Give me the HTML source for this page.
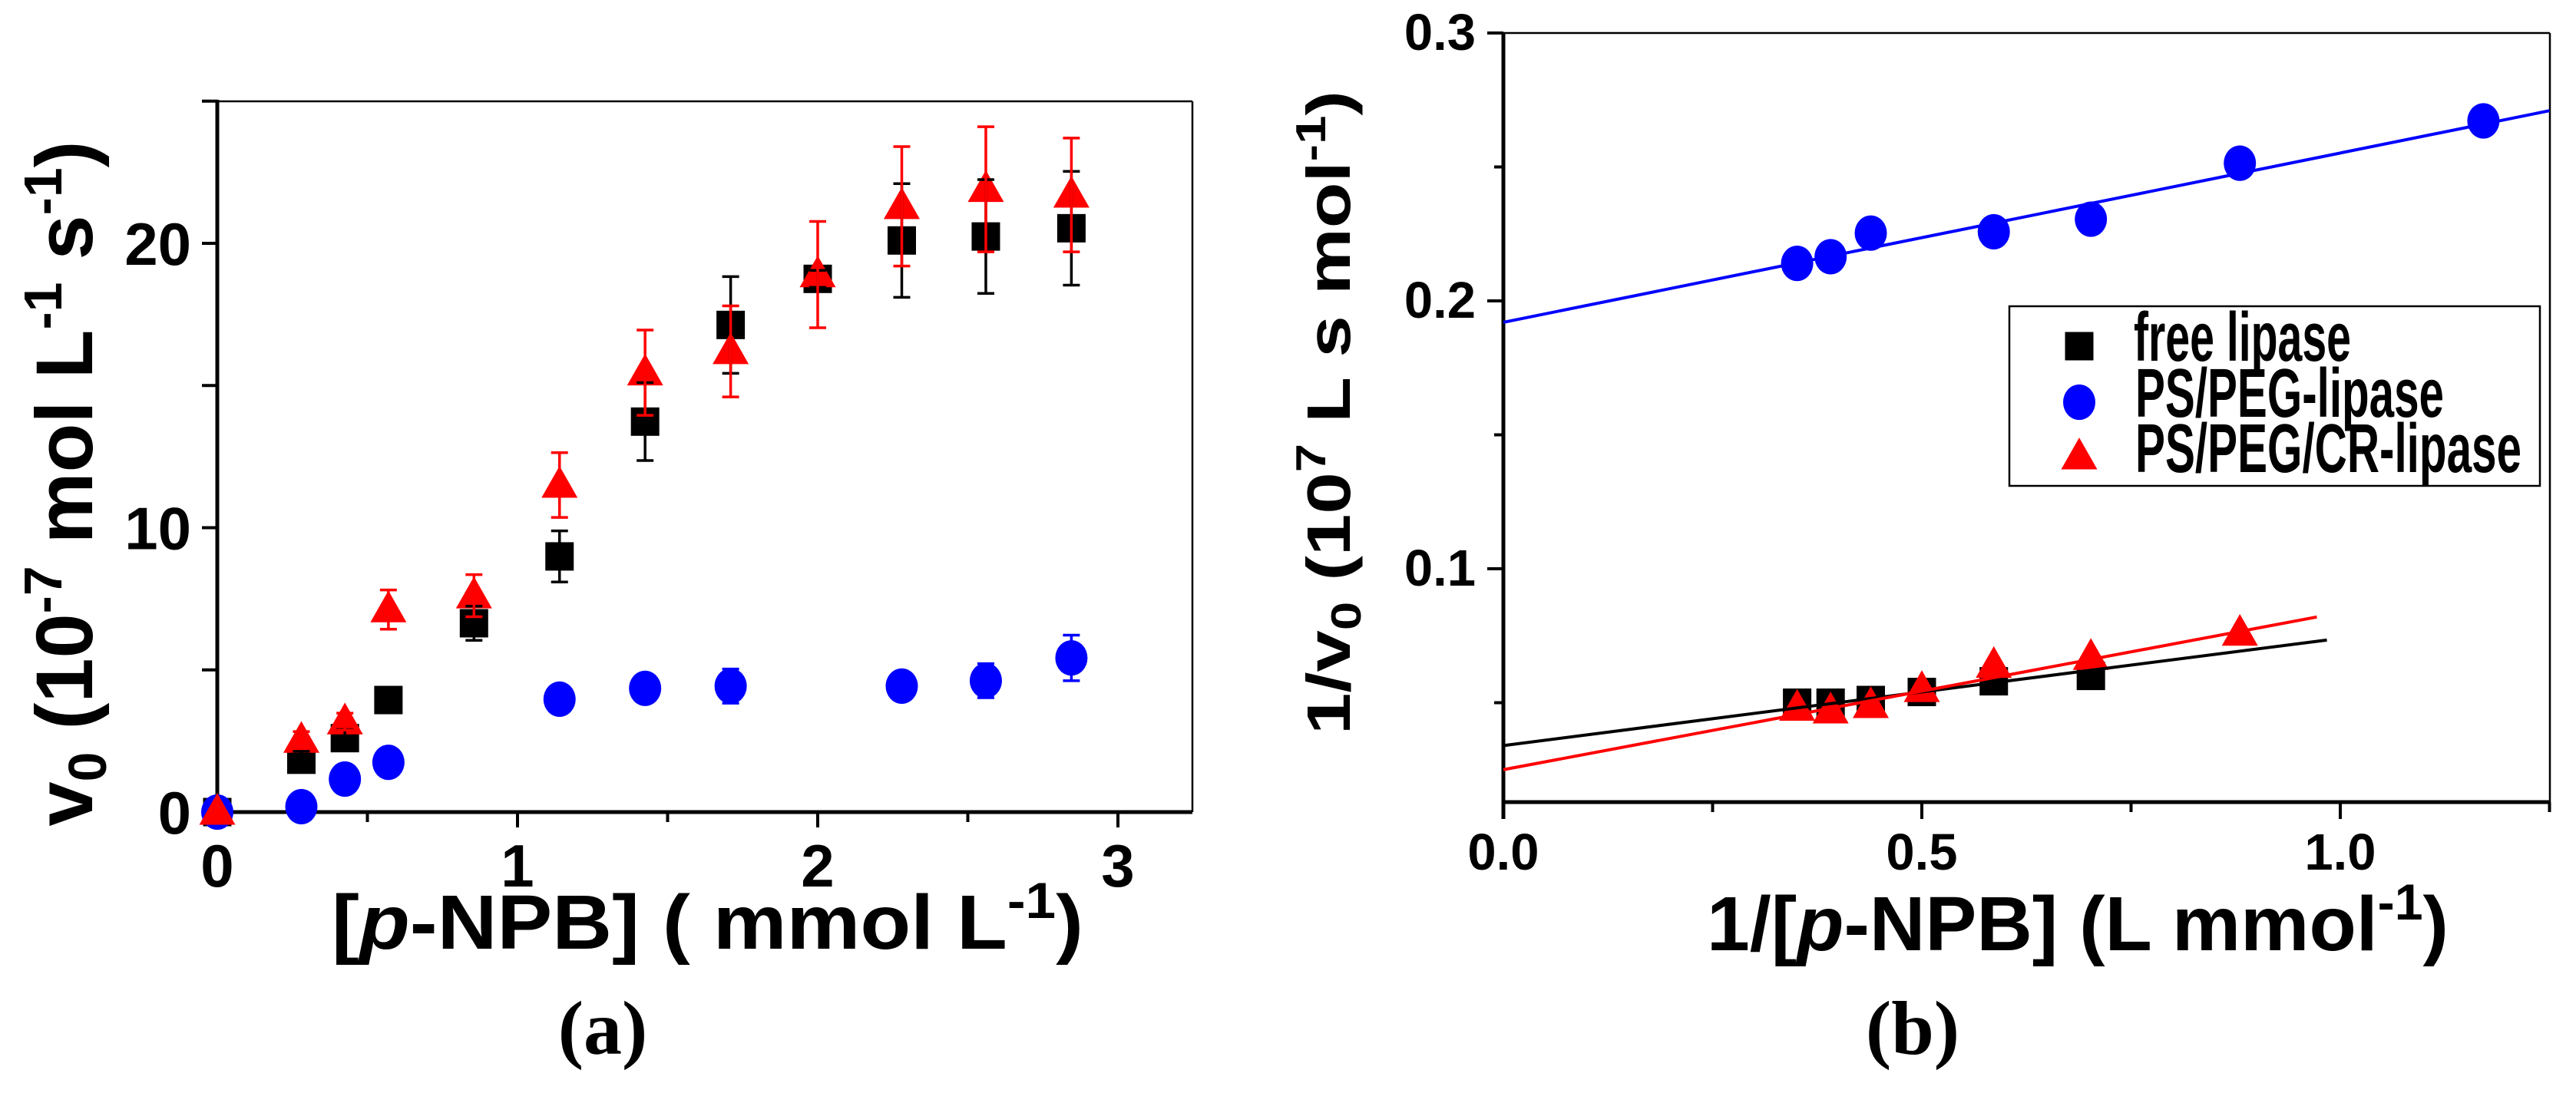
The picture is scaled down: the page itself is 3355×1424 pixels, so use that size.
<!DOCTYPE html>
<html><head><meta charset="utf-8">
<style>
html,body{margin:0;padding:0;background:#fff;}
svg{display:block;font-family:"Liberation Sans",Arial,sans-serif;}
</style></head>
<body>
<svg id="fig" width="3355" height="1424" viewBox="0 0 3355 1424" xmlns="http://www.w3.org/2000/svg">
<rect x="0" y="0" width="3355" height="1424" fill="#fff"/>
<g id="chartA"></g>
<g id="chartB"></g>
</svg>
<script>
// ---- Chart (a) data ----
const aX = [0, 0.28, 0.425, 0.57, 0.855, 1.14, 1.425, 1.71, 2.0, 2.28, 2.56, 2.845];
const aFree = [0, 1.84, 2.6, 3.94, 6.64, 8.99, 13.73, 17.13, 18.75, 20.1, 20.24, 20.53];
const aFreeErr = [0, 0.3, 0.3, 0, 0.6, 0.9, 1.37, 1.7, 0.3, 2.0, 2.0, 2.0];
const aRed = [0, 2.53, 3.18, 7.12, 7.61, 11.5, 15.45, 16.2, 18.9, 21.3, 21.9, 21.7];
const aRedErr = [0, 0.3, 0.3, 0.69, 0.74, 1.14, 1.5, 1.6, 1.87, 2.1, 2.2, 2.0];
const aBlueX = [0, 0.28, 0.425, 0.57, 1.14, 1.425, 1.71, 2.28, 2.56, 2.845];
const aBlue = [0, 0.19, 1.16, 1.75, 3.97, 4.35, 4.43, 4.43, 4.62, 5.42];
const aBlueErr = [0, 0, 0, 0, 0.2, 0.2, 0.6, 0.4, 0.6, 0.8];
const aXTicks = [0, 1, 2, 3];
const aYTicks = [0, 10, 20];
// ---- Chart (b) data ----
const bBlueX = [0.351, 0.391, 0.439, 0.586, 0.702, 0.880, 1.171];
const bBlue = [0.214, 0.2165, 0.2253, 0.2258, 0.2305, 0.2514, 0.2672];
const bFreeX = [0.351, 0.391, 0.439, 0.50, 0.586, 0.702];
const bFree = [0.050, 0.050, 0.051, 0.054, 0.058, 0.060];
const bRedX = [0.351, 0.391, 0.439, 0.50, 0.586, 0.702, 0.880];
const bRed = [0.048, 0.047, 0.049, 0.055, 0.064, 0.067, 0.076];
const bFitBlue = [0.192, 0.271, 0, 1.25];   // y at x0, y at x1, x0, x1
const bFitFree = [0.034, 0.0734, 0, 0.984];
const bFitRed = [0.025, 0.082, 0, 0.972];
const bXTicks = [0, 0.5, 1.0];
const bXTickLabels = ["0.0", "0.5", "1.0"];
const bYTicks = [0.1, 0.2, 0.3];
const bYTickLabels = ["0.1", "0.2", "0.3"];

const NS = "http://www.w3.org/2000/svg";
function mk(parent, tag, attrs) {
  const el = document.createElementNS(NS, tag);
  for (const k in attrs) el.setAttribute(k, attrs[k]);
  parent.appendChild(el);
  return el;
}

// ---------- Chart A ----------
const A = document.getElementById('chartA');
const aL = 283, aR = 1553, aT = 132, aB = 1058;
const ax = v => aL + v * 391;
const ay = v => aB - v * 37.05;

let el;
el = mk(A, 'line', {x1: aL, y1: aT, x2: aR, y2: aT, stroke: '#000', 'stroke-width': 2.5});


el = mk(A, 'line', {x1: aR, y1: aT, x2: aR, y2: aB, stroke: '#000', 'stroke-width': 2.5});


el = mk(A, 'line', {x1: aL, y1: aT - 2, x2: aL, y2: aB + 20, stroke: '#000', 'stroke-width': 5});


el = mk(A, 'line', {x1: aL - 20, y1: aB, x2: aR, y2: aB, stroke: '#000', 'stroke-width': 5});


for (let v = 0; v <= 3.01; v += 0.5) {
  const major = Math.abs(v - Math.round(v)) < 1e-6;
  el = mk(A, 'line', {x1: ax(v), y1: aB, x2: ax(v), y2: aB + (major ? 20 : 13), stroke: '#000', 'stroke-width': 4});
  
  
}
for (let v = 0; v <= 25.01; v += 5) {
  el = mk(A, 'line', {x1: aL - 20, y1: ay(v), x2: aL, y2: ay(v), stroke: '#000', 'stroke-width': 4});
  
  
}
aXTicks.forEach(v => {
  el = mk(A, 'text', {x: ax(v), y: 1155, 'text-anchor': 'middle', 'font-size': 78, 'font-weight': 'bold'});
  el.textContent = String(v);
  
  
});
aYTicks.forEach(v => {
  el = mk(A, 'text', {x: 249, y: ay(v) + 28, 'text-anchor': 'end', 'font-size': 78, 'font-weight': 'bold'});
  el.textContent = String(v);
  
  
});
function square(g, x, y, s, c) { return mk(g, 'rect', {x: x - s / 2, y: y - s / 2, width: s, height: s, fill: c}); }
function circle(g, x, y, r, c) { return mk(g, 'ellipse', {cx: x, cy: y, rx: r, ry: r * 1.1, fill: c}); }
function tri(g, x, y, w, c) { const h = w * 0.88; return mk(g, 'polygon', {points: `${x},${y - h * 0.6} ${x - w / 2},${y + h * 0.4} ${x + w / 2},${y + h * 0.4}`, fill: c}); }
function errbar(g, x, y1, y2, c) {
  return mk(g, 'path', {d: `M${x},${y1}V${y2}M${x - 11},${y1}H${x + 11}M${x - 11},${y2}H${x + 11}`, stroke: c, 'stroke-width': 3.5, fill: 'none'});
}
const gA = mk(A, 'g', {});
aX.forEach((x, i) => {
  el = square(gA, ax(x), ay(aFree[i]), 37, '#000');
  
  
});
aBlueX.forEach((x, i) => {
  el = circle(gA, ax(x), ay(aBlue[i]), 21, '#0000ff');
  
  
});
aX.forEach((x, i) => {
  el = tri(gA, ax(x), ay(aRed[i]), 47, '#ff0000');
  
  
});
aX.forEach((x, i) => {
  if (aFreeErr[i] > 0) {
    el = errbar(gA, ax(x), ay(aFree[i] + aFreeErr[i]), ay(aFree[i] - aFreeErr[i]), '#000');
    
    
  }
});
aBlueX.forEach((x, i) => {
  if (aBlueErr[i] > 0) {
    el = errbar(gA, ax(x), ay(aBlue[i] + aBlueErr[i]), ay(aBlue[i] - aBlueErr[i]), '#0000ff');
    
    
  }
});
aX.forEach((x, i) => {
  if (aRedErr[i] > 0) {
    el = errbar(gA, ax(x), ay(aRed[i] + aRedErr[i]), ay(aRed[i] - aRedErr[i]), '#ff0000');
    
    
  }
});
el = mk(A, 'text', {x: 0, y: 0, transform: 'translate(120,630) rotate(-90)', 'text-anchor': 'middle', 'font-size': 105, 'font-weight': 'bold', textLength: 893, lengthAdjust: 'spacingAndGlyphs'});
el.innerHTML = 'v<tspan font-size="70" dy="18">0</tspan><tspan dy="-18"> (10</tspan><tspan font-size="70" dy="-40">-7</tspan><tspan dy="40"> mol L</tspan><tspan font-size="70" dy="-40">-1</tspan><tspan dy="40"> s</tspan><tspan font-size="70" dy="-40">-1</tspan><tspan dy="40">)</tspan>';


el = mk(A, 'text', {x: 432, y: 1236, 'font-size': 100, 'font-weight': 'bold', textLength: 979, lengthAdjust: 'spacingAndGlyphs'});
el.innerHTML = '[<tspan font-style="italic">p</tspan>-NPB] ( mmol L<tspan font-size="66" dy="-40">-1</tspan><tspan dy="40">)</tspan>';


el = mk(A, 'text', {x: 785, y: 1373, 'text-anchor': 'middle', 'font-size': 100, 'font-weight': 'bold', 'font-family': '"Liberation Serif", serif'});
el.textContent = '(a)';



// ---------- Chart B ----------
const B = document.getElementById('chartB');
const bL = 1958, bR = 3321, bT = 43, bB = 1045;
const bx = v => bL + v * 1090;
const by = v => bT + (0.3 - v) * 3490;

el = mk(B, 'line', {x1: bL, y1: bT, x2: bR, y2: bT, stroke: '#000', 'stroke-width': 2.5});


el = mk(B, 'line', {x1: bR, y1: bT, x2: bR, y2: bB, stroke: '#000', 'stroke-width': 2.5});


el = mk(B, 'line', {x1: bL, y1: bT, x2: bL, y2: bB + 22, stroke: '#000', 'stroke-width': 5});


el = mk(B, 'line', {x1: bL, y1: bB, x2: bR, y2: bB, stroke: '#000', 'stroke-width': 5});


for (let v = 0; v <= 1.2501; v += 0.25) {
  const major = Math.abs(v * 2 - Math.round(v * 2)) < 1e-6;
  el = mk(B, 'line', {x1: bx(v), y1: bB, x2: bx(v), y2: bB + (major ? 22 : 13), stroke: '#000', 'stroke-width': 4});
  
  
}
for (let v = 0.05; v <= 0.3001; v += 0.05) {
  const major = Math.abs(v * 10 - Math.round(v * 10)) < 1e-6;
  el = mk(B, 'line', {x1: bL - (major ? 21 : 12), y1: by(v), x2: bL, y2: by(v), stroke: '#000', 'stroke-width': 4});
  
  
}
bXTicks.forEach((v, i) => {
  el = mk(B, 'text', {x: bx(v), y: 1133, 'text-anchor': 'middle', 'font-size': 67, 'font-weight': 'bold'});
  el.textContent = bXTickLabels[i];
  
  
});
bYTicks.forEach((v, i) => {
  el = mk(B, 'text', {x: 1922, y: by(v) + 22, 'text-anchor': 'end', 'font-size': 67, 'font-weight': 'bold'});
  el.textContent = bYTickLabels[i];
  
  
});
function fit(f, c, name) {
  el = mk(B, 'line', {x1: bx(f[2]), y1: by(f[0]), x2: bx(f[3]), y2: by(f[1]), stroke: c, 'stroke-width': 4});
  
  
}
fit(bFitBlue, '#0000ff', 'ps-peg-lipase-fit-line');
bBlueX.forEach((x, i) => {
  el = circle(B, bx(x), by(bBlue[i]), 21, '#0000ff');
  
  
});
bFreeX.forEach((x, i) => {
  el = square(B, bx(x), by(bFree[i]), 37, '#000');
  
  
});
bRedX.forEach((x, i) => {
  el = tri(B, bx(x), by(bRed[i]), 47, '#ff0000');
  
  
});
fit(bFitFree, '#000', 'free-lipase-fit-line');
fit(bFitRed, '#ff0000', 'ps-peg-cr-lipase-fit-line');

// legend
el = mk(B, 'rect', {x: 2617, y: 399, width: 691, height: 234, fill: '#fff', stroke: '#000', 'stroke-width': 2.5});


el = square(B, 2708, 451, 37, '#000');


el = circle(B, 2708, 524, 21, '#0000ff');


el = tri(B, 2708, 595, 47, '#ff0000');


el = mk(B, 'text', {x: 2779, y: 470, 'font-size': 90, 'font-weight': 'bold', textLength: 283, lengthAdjust: 'spacingAndGlyphs'});
el.textContent = 'free lipase';


el = mk(B, 'text', {x: 2781, y: 543, 'font-size': 90, 'font-weight': 'bold', textLength: 402, lengthAdjust: 'spacingAndGlyphs'});
el.textContent = 'PS/PEG-lipase';


el = mk(B, 'text', {x: 2781, y: 615, 'font-size': 90, 'font-weight': 'bold', textLength: 503, lengthAdjust: 'spacingAndGlyphs'});
el.textContent = 'PS/PEG/CR-lipase';



// titles B
el = mk(B, 'text', {x: 0, y: 0, transform: 'translate(1758,957) rotate(-90)', 'text-anchor': 'start', 'font-size': 80, 'font-weight': 'bold', textLength: 839, lengthAdjust: 'spacingAndGlyphs'});
el.innerHTML = '1/v<tspan font-size="55" dy="14">0</tspan><tspan dy="-14"> (10</tspan><tspan font-size="55" dy="-32">7</tspan><tspan dy="32"> L s mol</tspan><tspan font-size="55" dy="-32">-1</tspan><tspan dy="32">)</tspan>';


el = mk(B, 'text', {x: 2223, y: 1238, 'font-size': 100, 'font-weight': 'bold', textLength: 966, lengthAdjust: 'spacingAndGlyphs'});
el.innerHTML = '1/[<tspan font-style="italic">p</tspan>-NPB] (L mmol<tspan font-size="66" dy="-40">-1</tspan><tspan dy="40">)</tspan>';


el = mk(B, 'text', {x: 2491, y: 1373, 'text-anchor': 'middle', 'font-size': 100, 'font-weight': 'bold', 'font-family': '"Liberation Serif", serif'});
el.textContent = '(b)';


</script>
</body></html>
